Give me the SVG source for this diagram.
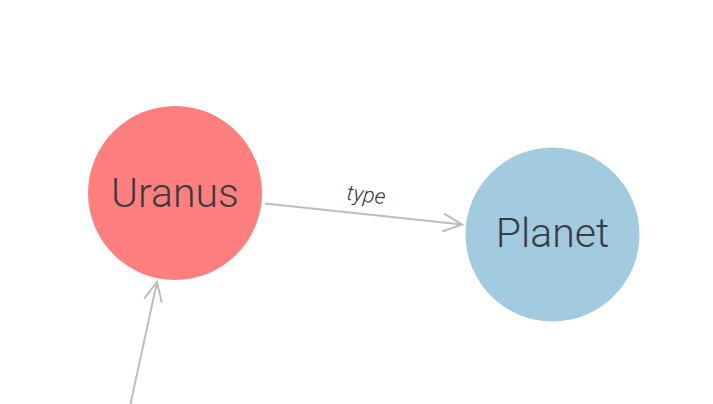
<svg xmlns="http://www.w3.org/2000/svg" width="713" height="404" viewBox="0 0 713 404">
<style>
.node text{font-family:Roboto,"Liberation Sans",sans-serif;font-weight:300;font-size:41px;fill:#3b3b42;text-anchor:middle}
.edge{stroke:#bdbdbd;stroke-width:2;fill:none}
.lbl{font-family:Roboto,"Liberation Sans",sans-serif;font-style:italic;font-weight:300;font-size:21.5px;fill:#333;text-anchor:middle}
</style>
<defs>
<marker id="arr" viewBox="-20 -10 22 20" refX="0" refY="0" markerWidth="22" markerHeight="20" markerUnits="userSpaceOnUse" orient="auto">
<path d="M-19,-9 L0,0 L-19,9" fill="none" stroke="#bdbdbd" stroke-width="2"/>
</marker>
</defs>
<rect width="713" height="404" fill="#fff"/>
<g id="connectors">
<line class="edge" x1="265" y1="203.5" x2="462" y2="224.5" marker-end="url(#arr)"/>
<text class="lbl" x="366" y="202" transform="rotate(6.2 366 196)">type</text>
<line class="edge" x1="130.5" y1="404" x2="157" y2="282" marker-end="url(#arr)"/>
</g>
<g id="node-uranus" class="node">
<circle cx="175" cy="193" r="87" fill="#ff7f7f"/>
<text x="175" y="207">Uranus</text>
</g>
<g id="node-planet" class="node">
<circle cx="552.5" cy="234.5" r="87" fill="#a2cbe0"/>
<text x="552.5" y="247">Planet</text>
</g>
</svg>
